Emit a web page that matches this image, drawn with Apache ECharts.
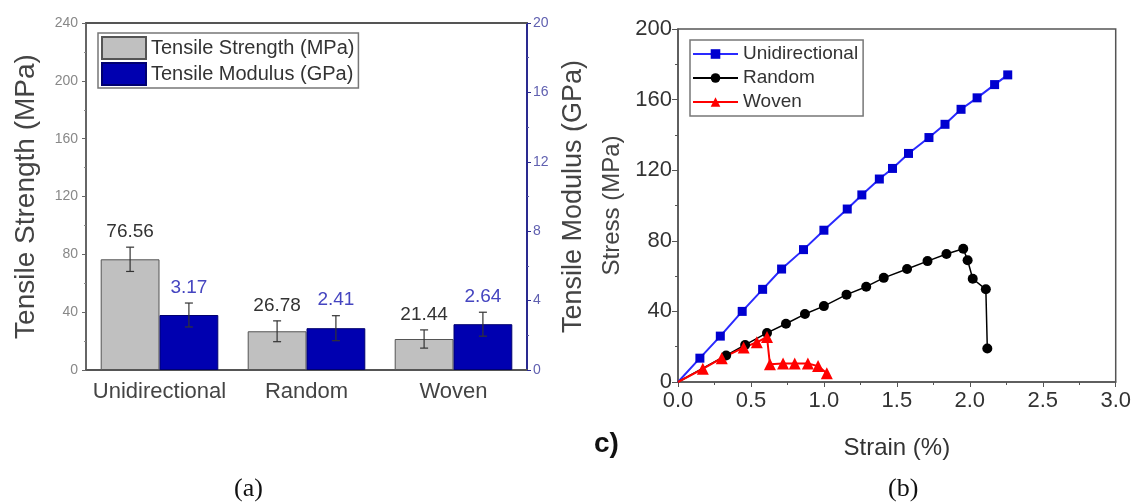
<!DOCTYPE html>
<html>
<head>
<meta charset="utf-8">
<script src="https://cdn.jsdelivr.net/npm/echarts@6/dist/echarts.min.js"></script>
<style>
  html, body { margin: 0; padding: 0; background: #fff; }
  #main { width: 1134px; height: 504px; }
</style>
</head>
<body>
<div id="main"></div>
<script>
// (a) bar chart data
var categories = ['Unidirectional', 'Random', 'Woven'];
var strength = [76.56, 26.78, 21.44];
var strengthErr = [8.4, 7.2, 6.3];
var modulus = [3.17, 2.41, 2.64];
var modulusErr = [0.69, 0.72, 0.69];

// (b) stress-strain curves
var uniStrain = [0, 0.15, 0.29, 0.44, 0.58, 0.71, 0.86, 1.0, 1.16, 1.26, 1.38, 1.47, 1.58, 1.72, 1.83, 1.94, 2.05, 2.17, 2.26];
var uniStress = [0, 13.5, 26, 40, 52.5, 64, 75, 86, 98, 106, 115, 121, 129.5, 138.5, 146, 154.5, 161, 168.5, 174];
var rndStrain = [0, 0.33, 0.46, 0.61, 0.74, 0.87, 1.0, 1.155, 1.29, 1.41, 1.57, 1.71, 1.84, 1.955, 1.985, 2.02, 2.11, 2.12];
var rndStress = [0, 15, 21, 27.8, 33, 38.5, 43, 49.5, 54, 59, 64, 68.5, 72.5, 75.5, 69, 58.5, 52.5, 19];
var wovStrain = [0, 0.17, 0.30, 0.45, 0.54, 0.61, 0.63, 0.72, 0.80, 0.89, 0.96, 1.02];
var wovStress = [0, 7.5, 13.5, 19.5, 22.5, 25.5, 10, 10.5, 10.5, 10.5, 9, 5];

var FONT = 'Liberation Sans, Arial, sans-serif';

function pairs(xs, ys) {
    return xs.map(function (x, i) {
        var item = { value: [x, ys[i]] };
        if (i === 0) item.symbol = 'none';   // curves start at the origin without a marker
        return item;
    });
}

function errData(vals, errs) {
    return vals.map(function (v, i) { return [i, v, errs[i]]; });
}

// error bar + value label drawn over the bar
function errorRender(side, labelColor) {
    return function (params, api) {
        var i = api.value(0), v = api.value(1), e = api.value(2);
        var band = api.size([1, 0])[0];
        var x = api.coord([i, v])[0] + side * band * 0.2;
        var top = api.coord([i, v + e])[1];
        var bot = api.coord([i, v - e])[1];
        var cap = 4;
        var ls = { stroke: '#333', lineWidth: 1.2 };
        return {
            type: 'group',
            children: [
                { type: 'line', shape: { x1: x, y1: top, x2: x, y2: bot }, style: ls },
                { type: 'line', shape: { x1: x - cap, y1: top, x2: x + cap, y2: top }, style: ls },
                { type: 'line', shape: { x1: x - cap, y1: bot, x2: x + cap, y2: bot }, style: ls },
                {
                    type: 'text', x: x, y: top - 6,
                    style: {
                        text: v.toFixed(2), fill: labelColor, font: '19px ' + FONT,
                        align: 'center', verticalAlign: 'bottom'
                    }
                }
            ]
        };
    };
}

var myChart = echarts.init(document.getElementById('main'));

var option = {
    animation: false,
    textStyle: { fontFamily: FONT },
    grid: [
        { left: 86, top: 23, width: 441, height: 347 },
        { left: 678, top: 29, width: 438, height: 353, show: true, borderColor: '#555', borderWidth: 1.5, backgroundColor: 'transparent' }
    ],
    legend: [
        {
            data: ['Tensile Strength (MPa)', 'Tensile Modulus (GPa)'],
            icon: 'rect',
            orient: 'vertical', left: 98, top: 33,
            itemWidth: 44, itemHeight: 22, itemGap: 2,
            padding: [3, 4, 2, 3],
            borderColor: '#777', borderWidth: 1.5, borderRadius: 0,
            textStyle: { fontSize: 20, color: '#333', fontFamily: FONT }
        },
        {
            data: ['Unidirectional', 'Random', 'Woven'],
            orient: 'vertical', left: 690, top: 40,
            itemWidth: 45, itemHeight: 12, itemGap: 4,
            padding: [4, 5, 4, 2],
            borderColor: '#777', borderWidth: 1.5, borderRadius: 0,
            textStyle: { fontSize: 19, color: '#333', fontFamily: FONT, lineHeight: 20 }
        }
    ],
    xAxis: [
        {
            type: 'category', gridIndex: 0, data: categories, position: 'bottom',
            axisLine: { lineStyle: { color: '#555', width: 2 } },
            axisTick: { alignWithLabel: true, length: 6, lineStyle: { color: '#555' } },
            axisLabel: { interval: 0, fontSize: 22, color: '#444', margin: 11 }
        },
        {
            type: 'category', gridIndex: 0, data: categories, position: 'bottom',
            axisLine: { show: false },
            axisTick: { interval: 0, length: 3, lineStyle: { color: '#555' } },
            axisLabel: { show: false }
        },
        {
            type: 'category', gridIndex: 0, data: categories, position: 'top',
            axisLine: { lineStyle: { color: '#555', width: 2 } },
            axisTick: { interval: 0, alignWithLabel: true, inside: true, length: 5, lineStyle: { color: '#555' } },
            axisLabel: { show: false }
        },
        {
            type: 'value', gridIndex: 1, min: 0, max: 3, interval: 0.5,
            name: 'Strain (%)', nameLocation: 'middle', nameGap: 54,
            nameTextStyle: { fontSize: 24, color: '#333' },
            axisLine: { lineStyle: { color: '#555', width: 1.5 } },
            axisTick: { length: 5, lineStyle: { color: '#555' } },
            minorTick: { show: true, splitNumber: 2, length: 3, lineStyle: { color: '#555' } },
            splitLine: { show: false },
            axisLabel: { fontSize: 22, color: '#333', margin: 8, formatter: function (v) { return v.toFixed(1); } }
        }
    ],
    yAxis: [
        {
            type: 'value', gridIndex: 0, min: 0, max: 240, interval: 40,
            name: 'Tensile Strength (MPa)', nameLocation: 'middle', nameGap: 46,
            nameTextStyle: { fontSize: 28, color: '#444' },
            axisLine: { show: true, lineStyle: { color: '#666', width: 2 } },
            axisTick: { show: true, length: 4, lineStyle: { color: '#666' } },
            minorTick: { show: true, splitNumber: 2, length: 2, lineStyle: { color: '#888' } },
            splitLine: { show: false },
            axisLabel: { fontSize: 14, color: '#888', margin: 8 }
        },
        {
            type: 'value', gridIndex: 0, min: 0, max: 20, interval: 4, position: 'right',
            name: 'Tensile Modulus (GPa)', nameLocation: 'middle', nameGap: 33,
            nameTextStyle: { fontSize: 27, color: '#444' },
            axisLine: { show: true, lineStyle: { color: '#2a2a90', width: 2 } },
            axisTick: { show: true, length: 4, lineStyle: { color: '#2a2a90' } },
            minorTick: { show: true, splitNumber: 2, length: 2, lineStyle: { color: '#5a5aa8' } },
            splitLine: { show: false },
            axisLabel: { fontSize: 14, color: '#6060b0', margin: 6 }
        },
        {
            type: 'value', gridIndex: 1, min: 0, max: 200, interval: 40,
            name: 'Stress (MPa)', nameLocation: 'middle', nameGap: 54,
            nameTextStyle: { fontSize: 24, color: '#444' },
            axisLine: { show: true, lineStyle: { color: '#555', width: 1.5 } },
            axisTick: { show: true, length: 6, lineStyle: { color: '#555' } },
            minorTick: { show: true, splitNumber: 2, length: 3, lineStyle: { color: '#555' } },
            splitLine: { show: false },
            axisLabel: { fontSize: 22, color: '#333', margin: 6 }
        }
    ],
    series: [
        {
            name: 'Tensile Strength (MPa)', type: 'bar', xAxisIndex: 0, yAxisIndex: 0,
            data: strength, barWidth: '40%', barGap: '0%',
            itemStyle: { color: '#c0c0c0', borderColor: '#555', borderWidth: 1 }
        },
        {
            name: 'Tensile Modulus (GPa)', type: 'bar', xAxisIndex: 0, yAxisIndex: 1,
            data: modulus, barWidth: '40%', barGap: '0%',
            itemStyle: { color: '#0000b0', borderColor: '#000070', borderWidth: 1 }
        },
        {
            type: 'custom', xAxisIndex: 0, yAxisIndex: 0, z: 5,
            data: errData(strength, strengthErr),
            renderItem: errorRender(-1, '#333')
        },
        {
            type: 'custom', xAxisIndex: 0, yAxisIndex: 1, z: 5,
            data: errData(modulus, modulusErr),
            renderItem: errorRender(1, '#4545c0')
        },
        {
            name: 'Unidirectional', type: 'line', xAxisIndex: 3, yAxisIndex: 2,
            data: pairs(uniStrain, uniStress),
            symbol: 'rect', symbolSize: 9,
            lineStyle: { color: '#2a2aff', width: 2 },
            itemStyle: { color: '#0000d0' }
        },
        {
            name: 'Random', type: 'line', xAxisIndex: 3, yAxisIndex: 2,
            data: pairs(rndStrain, rndStress),
            symbol: 'circle', symbolSize: 10,
            lineStyle: { color: '#000', width: 1.5 },
            itemStyle: { color: '#000' }
        },
        {
            name: 'Woven', type: 'line', xAxisIndex: 3, yAxisIndex: 2,
            data: pairs(wovStrain, wovStress),
            symbol: 'triangle', symbolSize: 12,
            lineStyle: { color: '#ff0000', width: 2 },
            itemStyle: { color: '#ff0000' }
        }
    ],
    graphic: [
        { type: 'text', left: 594, top: 430, style: { text: 'c)', font: 'bold 28px ' + FONT, fill: '#111' } },
        { type: 'text', left: 234, top: 476, style: { text: '(a)', font: '26px Liberation Serif, serif', fill: '#111' } },
        { type: 'text', left: 888, top: 476, style: { text: '(b)', font: '26px Liberation Serif, serif', fill: '#111' } }
    ]
};

myChart.setOption(option);
window.addEventListener('resize', function () {
    myChart.resize();
});
</script>
</body>
</html>
